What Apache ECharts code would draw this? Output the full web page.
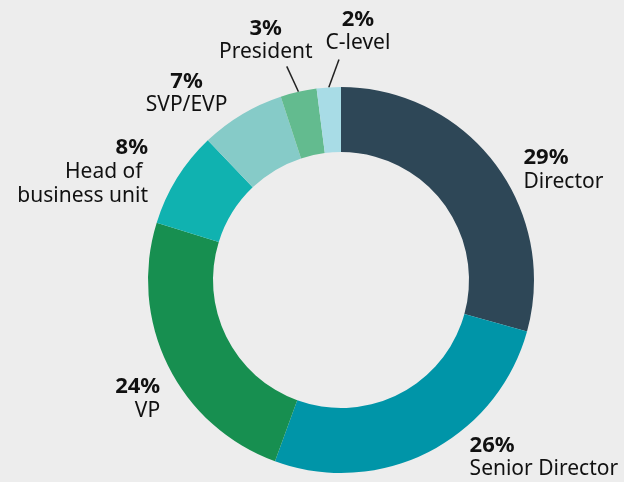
<!DOCTYPE html>
<html>
<head>
<meta charset="utf-8">
<script src="https://cdn.jsdelivr.net/npm/echarts@6/dist/echarts.min.js"></script>
<style>
  html, body { margin: 0; padding: 0; background: #ededed; }
  #chart { width: 624px; height: 482px; }
</style>
</head>
<body>
<div id="chart"></div>
<script>
// Share of respondents by job level
const levels = ['Director', 'Senior Director', 'VP', 'Head of \nbusiness unit', 'SVP/EVP', 'President', 'C-level'];
const shares = [29, 26, 24, 8, 7, 3, 2];
const colors = ['#2e4757', '#0095a8', '#178f50', '#10b2b0', '#86cbc8', '#63bb8f', '#a8dce6'];

// Label nudges and alignment per slice
const labelNudge = [
  { dx: 8, dy: 19 },
  { dx: 26, dy: -12 },
  { dx: 15, dy: 24 },
  { dx: -7, dy: 4 },
  { dx: -40, dy: -4, align: 'center' },
  { dx: -22, dy: -26, align: 'center' },
  { dx: 36, dy: -28, align: 'center' }
];
// Leader lines only for the two thin slices at the top (length, sideways lean of the tip)
const leader = [null, null, null, null, null, { length: 26, lean: -6 }, { length: 28, lean: 12 }];

const chart = echarts.init(document.getElementById('chart'), null, { renderer: 'canvas' });

const data = levels.map((name, i) => ({
  name: name,
  value: shares[i],
  itemStyle: { color: colors[i] },
  labelLine: leader[i] ? { show: true, length: leader[i].length } : { show: false }
}));

chart.setOption({
  backgroundColor: '#ededed',
  animation: false,
  series: [{
    type: 'pie',
    center: [341, 280],
    radius: [128, 193],
    startAngle: 90,
    clockwise: true,
    avoidLabelOverlap: false,
    itemStyle: { borderWidth: 0 },
    label: {
      show: true,
      position: 'outside',
      color: '#111',
      fontFamily: 'Noto Sans',
      lineHeight: 24,
      formatter: function (p) {
        const lines = p.name.split('\n').map(s => '{n|' + s + '}');
        return '{p|' + p.value + '%}\n' + lines.join('\n');
      },
      rich: {
        p: { fontSize: 22, fontWeight: 'bold', fontFamily: 'Noto Sans', color: '#111', lineHeight: 24 },
        n: { fontSize: 21, fontFamily: 'Noto Sans', color: '#111', lineHeight: 24 }
      }
    },
    labelLine: {
      length: 20,
      length2: 0,
      lineStyle: { color: '#222', width: 1.5 }
    },
    labelLayout: function (params) {
      const i = params.dataIndex;
      const out = Object.assign({}, labelNudge[i]);
      const pts = params.labelLinePoints;
      if (leader[i] && pts && pts.length) {
        const tip = pts[pts.length - 1];
        out.labelLinePoints = [pts[0], [tip[0] + leader[i].lean, tip[1]]];
      }
      return out;
    },
    data: data
  }]
});
</script>
</body>
</html>
